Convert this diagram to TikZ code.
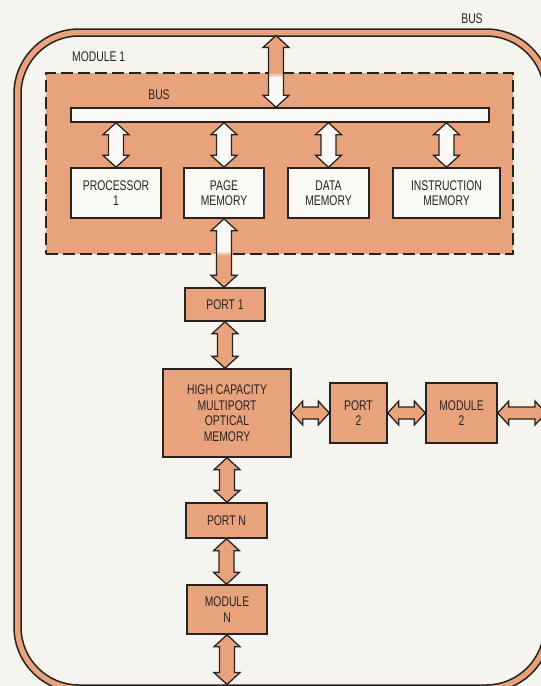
\documentclass[tikz,border=0pt]{standalone}
\usepackage{fontspec}
\setmainfont{Liberation Sans}[FakeStretch=0.74]
\usetikzlibrary{calc}
\definecolor{salmon}{RGB}{233,163,124}
\definecolor{paper}{RGB}{246,244,239}
\definecolor{ink}{RGB}{40,34,32}
\definecolor{boxwhite}{RGB}{250,249,246}

% vertical double arrow: #1 upper end, #2 lower end, #3 options
\newcommand{\varr}[3]{\path[dblarrow,#3] let \p1=(#1), \p2=(#2) in
 (\x1,\y1) -- (\x1+13pt,\y1-12pt) -- (\x1+7.5pt,\y1-12pt) -- (\x1+7.5pt,\y2+12pt)
 -- (\x1+13pt,\y2+12pt) -- (\x1,\y2) -- (\x1-13pt,\y2+12pt) -- (\x1-7.5pt,\y2+12pt)
 -- (\x1-7.5pt,\y1-12pt) -- (\x1-13pt,\y1-12pt) -- cycle;}
% horizontal double arrow: #1 left end, #2 right end, #3 options
\newcommand{\harr}[3]{\path[dblarrow,#3] let \p1=(#1), \p2=(#2) in
 (\x1,\y1) -- (\x1+11pt,\y1+12pt) -- (\x1+11pt,\y1+6pt) -- (\x2-11pt,\y1+6pt)
 -- (\x2-11pt,\y1+12pt) -- (\x2,\y1) -- (\x2-11pt,\y1-12pt) -- (\x2-11pt,\y1-6pt)
 -- (\x1+11pt,\y1-6pt) -- (\x1+11pt,\y1-12pt) -- cycle;}

\tikzset{
  dblarrow/.style={draw=ink, line width=1.3pt, line join=miter},
  wbox/.style={draw=ink, line width=1.5pt, fill=boxwhite, inner sep=0pt, align=center},
  obox/.style={draw=ink, line width=1.5pt, fill=salmon, inner sep=0pt, align=center},
  lbl/.style={inner sep=0pt},
}

\begin{document}
\begin{tikzpicture}[x=1pt, y=-1pt, font=\fontsize{14}{15.5}\selectfont, text=ink]
\useasboundingbox (0,0) rectangle (541,686);
\fill[paper] (0,0) rectangle (541,686);

% outer bus band
\begin{scope}
\clip (0,0) rectangle (541,686);
\fill[salmon, even odd rule, rounded corners=65pt] (14,29) rectangle (551,692)
  {[rounded corners=58pt] (21,36) rectangle (544,685)};
\draw[ink, line width=1.5pt, rounded corners=65pt] (14,29) rectangle (551,692);
\draw[ink, line width=1.5pt, rounded corners=58pt] (21,36) rectangle (544,685);
\end{scope}
\coordinate (tbus) at (276,35.5);
\coordinate (rbus) at (546,412);
\coordinate (bbus) at (227,684.5);

\node[lbl] (buslbl) at (472,19) {BUS};
\node[lbl, anchor=west] (modlbl) at (72,57) {MODULE 1};

% module 1 dashed region
\node[draw=ink, fill=salmon, line width=1.4pt, dash pattern=on 12pt off 5pt,
      minimum width=467pt, minimum height=181pt, inner sep=0pt] (mod) at (279.5,163.5) {};
\node[lbl] (ibuslbl) at (159,95) {BUS};
\node[draw=ink, line width=1.4pt, fill=boxwhite, minimum width=418pt, minimum height=14pt,
      inner sep=0pt] (bar) at (280,115) {};

\node[wbox, minimum width=90pt, minimum height=50pt] (p1) at (116,193) {PROCESSOR\\1};
\node[wbox, minimum width=80pt, minimum height=50pt] (pm) at (224,193) {PAGE\\MEMORY};
\node[wbox, minimum width=81pt, minimum height=50pt] (dm) at (328.5,193) {DATA\\MEMORY};
\node[wbox, minimum width=107pt, minimum height=50pt] (im) at (446.5,193) {INSTRUCTION\\MEMORY};

\node[obox, minimum width=80pt, minimum height=33pt] (port1) at (225,304.5) {PORT 1};
\node[obox, minimum width=128pt, minimum height=88pt] (hc) at (227,413)
  {HIGH CAPACITY\\MULTIPORT\\OPTICAL\\MEMORY};
\node[obox, minimum width=57pt, minimum height=60pt] (port2) at (358.5,413) {PORT\\2};
\node[obox, minimum width=71pt, minimum height=60pt] (mod2) at (461.5,413) {MODULE\\2};
\node[obox, minimum width=81pt, minimum height=35pt] (portn) at (226.5,520.5) {PORT N};
\node[obox, minimum width=80pt, minimum height=49pt] (modn) at (227,609.5) {MODULE\\N};

% arrows
\varr{tbus}{tbus |- bar.north}{fill=boxwhite, path picture={
  \fill[salmon] (path picture bounding box.north west) rectangle (path picture bounding box.east |- mod.north);
  \shade[top color=salmon, bottom color=boxwhite] (path picture bounding box.west |- mod.north)
     rectangle ([yshift=-5pt]path picture bounding box.east |- mod.north);}}
\varr{bar.south -| p1.north}{p1.north}{fill=boxwhite}
\varr{bar.south -| pm.north}{pm.north}{fill=boxwhite}
\varr{bar.south -| dm.north}{dm.north}{fill=boxwhite}
\varr{bar.south -| im.north}{im.north}{fill=boxwhite}
\varr{pm.south}{port1.north}{fill=salmon, path picture={
  \fill[boxwhite] (path picture bounding box.north west) rectangle ([yshift=4pt]path picture bounding box.east |- mod.south);
  \shade[top color=boxwhite, bottom color=salmon] ([yshift=4pt]path picture bounding box.west |- mod.south)
     rectangle ([yshift=-1pt]path picture bounding box.east |- mod.south);}}
\varr{port1.south}{port1.south |- hc.north}{fill=salmon}
\varr{hc.south}{hc.south |- portn.north}{fill=salmon}
\varr{portn.south}{portn.south |- modn.north}{fill=salmon}
\varr{modn.south}{modn.south |- bbus}{fill=salmon}
\harr{hc.east}{port2.west}{fill=salmon}
\harr{port2.east}{mod2.west}{fill=salmon}
\harr{mod2.east}{rbus}{fill=salmon}
\end{tikzpicture}
\end{document}
